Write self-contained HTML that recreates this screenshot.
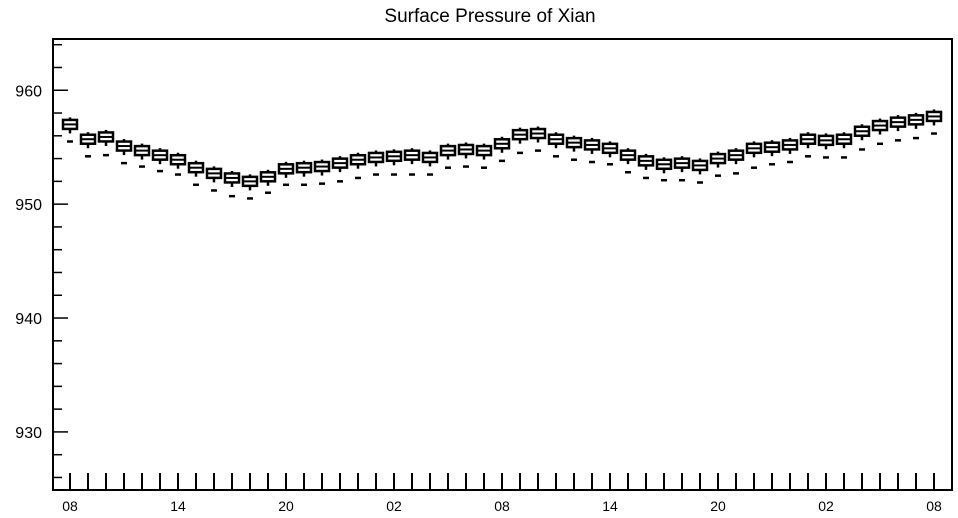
<!DOCTYPE html>
<html><head><meta charset="utf-8"><style>
body{margin:0;background:#fff;}
svg{display:block;font-family:"Liberation Sans",sans-serif;}
</style></head><body>
<svg id="chart" width="958" height="518" viewBox="0 0 958 518">
<text x="490" y="22" font-size="19" text-anchor="middle">Surface Pressure of Xian</text>
<rect x="53" y="39" width="899" height="451" fill="none" stroke="#000" stroke-width="2"/>
<g id="marks"></g>
</svg>
<script>
const xLabels = ["08","14","20","02","08","14","20","02","08"];
const yTicks = [930,940,950,960];
const medians = [957.0,955.7,955.9,955.1,954.7,954.3,953.9,953.2,952.7,952.3,952.0,952.4,953.1,953.2,953.3,953.6,953.9,954.1,954.2,954.3,954.1,954.7,954.8,954.7,955.3,956.1,956.2,955.7,955.4,955.2,954.9,954.3,953.8,953.5,953.6,953.4,954.0,954.3,954.9,955.0,955.2,955.7,955.6,955.7,956.4,956.9,957.2,957.4,957.7];
const mins = [955.5,954.2,954.3,953.6,953.3,952.9,952.6,951.7,951.2,950.7,950.5,951.0,951.7,951.7,951.8,952.0,952.3,952.6,952.6,952.6,952.6,953.2,953.3,953.2,953.8,954.5,954.7,954.2,953.9,953.7,953.5,952.8,952.3,952.1,952.1,951.9,952.5,952.7,953.2,953.5,953.7,954.2,954.1,954.1,954.8,955.3,955.6,955.8,956.2];
const yMin = 924.9, yMax = 964.5;
const NS = "http://www.w3.org/2000/svg";
const g = document.getElementById("marks");
function yScale(v){ return 490 - (v - yMin) / (yMax - yMin) * 451; }
function xScale(i){ return 70 + i * 18; }
function mk(tag, attrs){ const e=document.createElementNS(NS,tag); for(const k in attrs) e.setAttribute(k,attrs[k]); g.appendChild(e); return e; }
// y axis ticks
for(let v=926; v<=964; v+=2){
  const major = v%10===0;
  const t = mk("line",{x1:53,x2:major?68:62,y1:yScale(v),y2:yScale(v),stroke:"#000","stroke-width":1.5});
  
  
}
yTicks.forEach(v=>{
  const t = mk("text",{x:42,y:yScale(v)+6,"font-size":16,"text-anchor":"end"});
  t.textContent=v;
  
  
});
// x ticks
medians.forEach((m,i)=>{
  const t = mk("line",{x1:xScale(i),x2:xScale(i),y1:473,y2:490,stroke:"#000","stroke-width":2});
  
  
});
xLabels.forEach((l,j)=>{
  const t = mk("text",{x:xScale(j*6),y:511,"font-size":14,"text-anchor":"middle"});
  t.textContent=l;
  
  
});
// boxes
medians.forEach((m,i)=>{
  const x=xScale(i), ym=yScale(m);
  const w = mk("line",{x1:x,x2:x,y1:ym-7,y2:ym+9,stroke:"#000","stroke-width":2.5});
  
  
  const b = mk("rect",{x:x-7,y:ym-4.5,width:14,height:9,fill:"#fff",stroke:"#000","stroke-width":2.5});
  
  
  const md = mk("line",{x1:x-7,x2:x+7,y1:ym,y2:ym,stroke:"#000","stroke-width":2});
  
  
  const o = mk("line",{x1:x-3,x2:x+3,y1:yScale(mins[i]),y2:yScale(mins[i]),stroke:"#000","stroke-width":2.5});
  
  
});
</script>
</body></html>
